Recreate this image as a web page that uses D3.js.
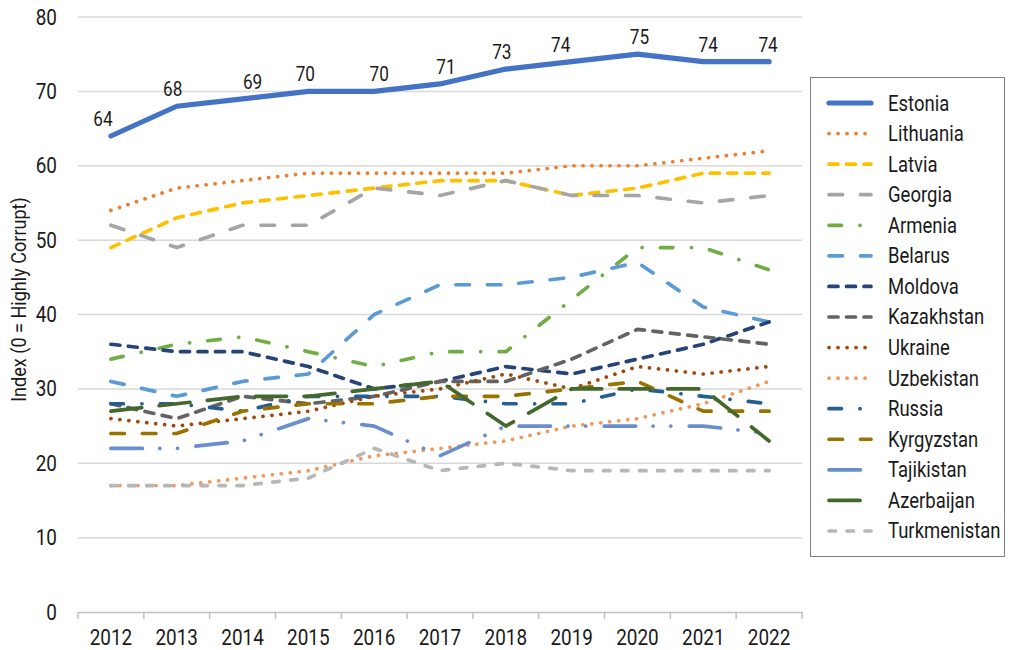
<!DOCTYPE html>
<html>
<head>
<meta charset="utf-8">
<script src="https://cdn.jsdelivr.net/npm/d3@7"></script>
<style>
  html, body { margin: 0; padding: 0; background: #fff; }
  svg text { font-family: "Roboto", "Liberation Sans", sans-serif; fill: #1a1a1a; }
</style>
</head>
<body>
<svg id="chart" width="1009" height="650"></svg>
<script>
// Corruption Perceptions Index scores, 2012–2022
const years = ["2012","2013","2014","2015","2016","2017","2018","2019","2020","2021","2022"];
const yTicks = [0, 10, 20, 30, 40, 50, 60, 70, 80];

const countries = ["Estonia","Lithuania","Latvia","Georgia","Armenia","Belarus","Moldova",
  "Kazakhstan","Ukraine","Uzbekistan","Russia","Kyrgyzstan","Tajikistan","Azerbaijan","Turkmenistan"];

const estonia      = [64, 68, 69, 70, 70, 71, 73, 74, 75, 74, 74];
const lithuania    = [54, 57, 58, 59, 59, 59, 59, 60, 60, 61, 62];
const latvia       = [49, 53, 55, 56, 57, 58, 58, 56, 57, 59, 59];
const georgia      = [52, 49, 52, 52, 57, 56, 58, 56, 56, 55, 56];
const armenia      = [34, 36, 37, 35, 33, 35, 35, 42, 49, 49, 46];
const belarus      = [31, 29, 31, 32, 40, 44, 44, 45, 47, 41, 39];
const moldova      = [36, 35, 35, 33, 30, 31, 33, 32, 34, 36, 39];
const kazakhstan   = [28, 26, 29, 28, 29, 31, 31, 34, 38, 37, 36];
const ukraine      = [26, 25, 26, 27, 29, 30, 32, 30, 33, 32, 33];
const uzbekistan   = [17, 17, 18, 19, 21, 22, 23, 25, 26, 28, 31];
const russia       = [28, 28, 27, 29, 29, 29, 28, 28, 30, 29, 28];
const kyrgyzstan   = [24, 24, 27, 28, 28, 29, 29, 30, 31, 27, 27];
const tajikistan   = [22, 22, 23, 26, 25, 21, 25, 25, 25, 25, 24];
const azerbaijan   = [27, 28, 29, 29, 30, 31, 25, 30, 30, 30, 23];
const turkmenistan = [17, 17, 17, 18, 22, 19, 20, 19, 19, 19, 19];

const seriesValues = [estonia, lithuania, latvia, georgia, armenia, belarus, moldova,
  kazakhstan, ukraine, uzbekistan, russia, kyrgyzstan, tajikistan, azerbaijan, turkmenistan];

const colors = ["#4472C4","#ED7D31","#FFC000","#A5A5A5","#70AD47","#5B9BD5","#264478",
  "#636363","#9E480E","#F1975A","#255E91","#997300","#698ED0","#43682B","#B7B7B7"];

// stroke dash patterns (round caps)
const DOT = "0.1 8.9";
const DASH = "9 8.5";
const SHORT = "6.5 11.5";
const LONG = "13.5 18";
const LONG_DOT = "12.5 18.5 0.1 18.3";
const LONG_DOT_DOT = "31.5 17.4 0.1 17.6 0.1 18.4";
const LONGER = "31 17.5";
const dashes = [null, DOT, DASH, LONG, LONG_DOT, LONG, DASH, DASH, DOT, DOT, LONG_DOT, LONG,
  LONG_DOT_DOT, LONGER, SHORT];

// horizontal nudges for the Estonia value labels (placed to avoid crowding)
const labelShift = [-8, -4, 10, -3, 5, 6, -4, -11, 2, 5, -1];

const series = countries.map((name, i) => ({
  name, color: colors[i], dash: dashes[i],
  width: i === 0 ? 5.2 : 3.7,
  values: seriesValues[i].map((v, j) => ({ year: years[j], value: v }))
}));

const NARROW = 0.86;   // horizontal squeeze for a condensed look
const svg = d3.select("#chart");
const margin = { left: 78, right: 802, top: 17, bottom: 612 };

const x = d3.scaleBand().domain(years).range([margin.left, margin.right]).paddingInner(0).paddingOuter(0);
const y = d3.scaleLinear().domain([0, 80]).range([margin.bottom, margin.top]);
const cx = d => x(d) + x.bandwidth() / 2;

// horizontal gridlines
svg.append("g")
  .selectAll("line")
  .data(yTicks.filter(t => t > 0))
  .join("line")
  .attr("x1", margin.left).attr("x2", margin.right)
  .attr("y1", d => y(d)).attr("y2", d => y(d))
  .attr("stroke", "#d9d9d9").attr("stroke-width", 1.5);

// y axis labels
const yAxis = d3.axisLeft(y).tickValues(yTicks).tickSize(0).tickPadding(0);
svg.append("g")
  .attr("transform", `translate(${margin.left},0)`)
  .call(yAxis)
  .call(g => g.select(".domain").remove())
  .call(g => g.selectAll("text")
    .attr("x", null)
    .attr("transform", `translate(-21,0) scale(${NARROW},1)`)
    .attr("font-size", 22).style("font-family", "Roboto").attr("fill", "#1a1a1a"));

// x axis with category boundary ticks
const xAxis = d3.axisBottom(x).tickSize(0).tickPadding(0);
const gx = svg.append("g")
  .attr("transform", `translate(0,${margin.bottom})`)
  .call(xAxis);
gx.select(".domain").attr("stroke", "#bfbfbf").attr("stroke-width", 1.5);
gx.selectAll("text")
  .attr("y", null).attr("dy", null)
  .attr("transform", `translate(0,32.5) scale(${NARROW},1)`)
  .attr("font-size", 22).style("font-family", "Roboto").attr("fill", "#1a1a1a");
gx.selectAll(".boundary")
  .data(years.concat(["end"]))
  .join("line")
  .attr("class", "boundary")
  .attr("x1", (d, i) => margin.left + i * x.step())
  .attr("x2", (d, i) => margin.left + i * x.step())
  .attr("y1", 0).attr("y2", 7)
  .attr("stroke", "#bfbfbf").attr("stroke-width", 1.5);

// y axis title
svg.append("text")
  .attr("transform", `translate(26,${(margin.top + margin.bottom) / 2 - 15}) rotate(-90) scale(${NARROW},1)`)
  .attr("text-anchor", "middle")
  .attr("font-size", 21)
  .text("Index (0 = Highly Corrupt)");

// lines
const line = d3.line().x(d => cx(d.year)).y(d => y(d.value));
svg.append("g")
  .selectAll("path")
  .data(series)
  .join("path")
  .attr("d", d => line(d.values))
  .attr("fill", "none")
  .attr("stroke", d => d.color)
  .attr("stroke-width", d => d.width)
  .attr("stroke-linecap", "round")
  .attr("stroke-linejoin", "round")
  .attr("stroke-dasharray", d => d.dash);

// value labels for Estonia
svg.append("g")
  .selectAll("text")
  .data(series[0].values)
  .join("text")
  .attr("transform", (d, i) => `translate(${cx(d.year) + labelShift[i]},${y(d.value) - 10}) scale(${NARROW},1)`)
  .attr("text-anchor", "middle")
  .attr("font-size", 20)
  .text(d => d.value);

// legend
const lg = svg.append("g");
lg.append("rect")
  .attr("x", 810.5).attr("y", 77.5).attr("width", 194).attr("height", 479)
  .attr("fill", "#fff").attr("stroke", "#808080").attr("stroke-width", 1);
const rows = lg.selectAll("g.row")
  .data(series)
  .join("g")
  .attr("class", "row")
  .attr("transform", (d, i) => `translate(0,${103 + i * 30.57})`);
rows.append("line")
  .attr("x1", 829).attr("x2", 871).attr("y1", 0).attr("y2", 0)
  .attr("stroke", d => d.color)
  .attr("stroke-width", d => d.width)
  .attr("stroke-linecap", "round")
  .attr("stroke-dasharray", d => d.dash);
rows.append("text")
  .attr("transform", `translate(888,7.5) scale(${NARROW},1)`)
  .attr("font-size", 21.5)
  .text(d => d.name);
</script>
</body>
</html>
